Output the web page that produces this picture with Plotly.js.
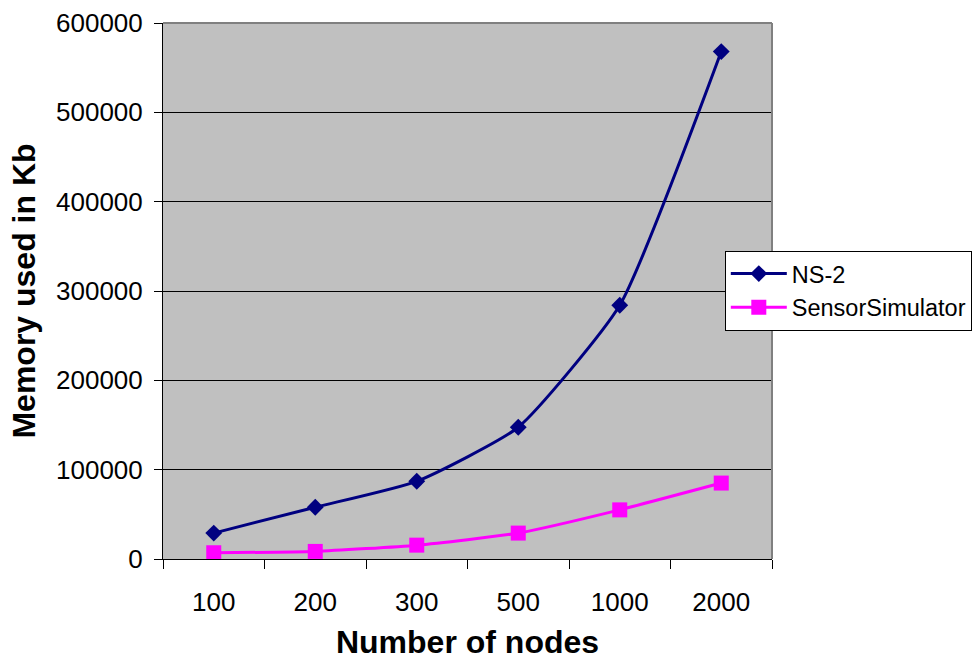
<!DOCTYPE html>
<html>
<head>
<meta charset="utf-8">
<script src="https://cdn.plot.ly/plotly-3.0.1.min.js"></script>
<style>html,body{margin:0;padding:0;background:#fff;}#chart{width:977px;height:660px;}</style>
</head>
<body>
<div id="chart"></div>
<script>
const categories = ["100", "200", "300", "500", "1000", "2000"];
const ns2 = [29000, 58000, 87000, 147500, 284000, 568000];
const sensorSimulator = [7000, 8500, 15500, 29000, 55000, 85000];
const yTicks = [0, 100000, 200000, 300000, 400000, 500000, 600000];

const FONT = "Liberation Sans, Arial, sans-serif";

const traces = [
  {
    x: categories, y: ns2, name: "NS-2", type: "scatter", mode: "lines+markers",
    line: {color: "#000080", width: 3, shape: "spline", smoothing: 0.5},
    marker: {symbol: "diamond", size: 13, color: "#000080"}
  },
  {
    x: categories, y: sensorSimulator, name: "SensorSimulator", type: "scatter", mode: "lines+markers",
    line: {color: "#FF00FF", width: 3, shape: "spline", smoothing: 0.5},
    marker: {symbol: "square", size: 15, color: "#FF00FF"}
  }
];

const layout = {
  width: 977, height: 660,
  margin: {l: 163, r: 205, t: 23, b: 101, autoexpand: false},
  paper_bgcolor: "#ffffff",
  plot_bgcolor: "#C0C0C0",
  font: {family: FONT, size: 24, color: "#000"},
  showlegend: true,
  legend: {
    x: 0.9225, xanchor: "left", y: 0.575, yanchor: "top",
    bgcolor: "#ffffff", bordercolor: "#000", borderwidth: 1,
    font: {family: FONT, size: 23.5, color: "#000"},
    itemwidth: 56,
    tracegroupgap: 0
  },
  xaxis: {
    type: "category",
    categoryorder: "array", categoryarray: categories,
    range: [-0.5, categories.length - 0.5],
    autorange: false,
    tickson: "boundaries",
    automargin: false,
    ticks: "outside", ticklen: 9, tickcolor: "#000", tickwidth: 1,
    showline: true, linecolor: "#000", linewidth: 1,
    showgrid: false, zeroline: false,
    ticklabelstandoff: 20,
    tickfont: {family: FONT, size: 26, color: "#000"},
    title: {text: "Number of nodes", font: {family: FONT, size: 32, color: "#000", weight: "bold"}, standoff: 25}
  },
  yaxis: {
    range: [0, 600000],
    autorange: false,
    automargin: false,
    tickvals: yTicks,
    ticktext: yTicks.map(String),
    ticks: "outside", ticklen: 8, tickcolor: "#000", tickwidth: 1,
    showline: true, linecolor: "#000", linewidth: 1,
    showgrid: true, gridcolor: "#000", gridwidth: 1,
    zeroline: false,
    ticklabelstandoff: 6,
    tickfont: {family: FONT, size: 26, color: "#000"},
    title: {text: "Memory used in Kb", font: {family: FONT, size: 32, color: "#000", weight: "bold"}, standoff: 10}
  },
  shapes: [
    {type: "line", xref: "paper", yref: "paper", x0: 0, x1: 1, y0: 1, y1: 1, line: {color: "#808080", width: 2}},
    {type: "line", xref: "paper", yref: "paper", x0: 1, x1: 1, y0: 0, y1: 1, line: {color: "#808080", width: 2}}
  ]
};

Plotly.newPlot("chart", traces, layout, {displayModeBar: false, responsive: false});
</script>
</body>
</html>
